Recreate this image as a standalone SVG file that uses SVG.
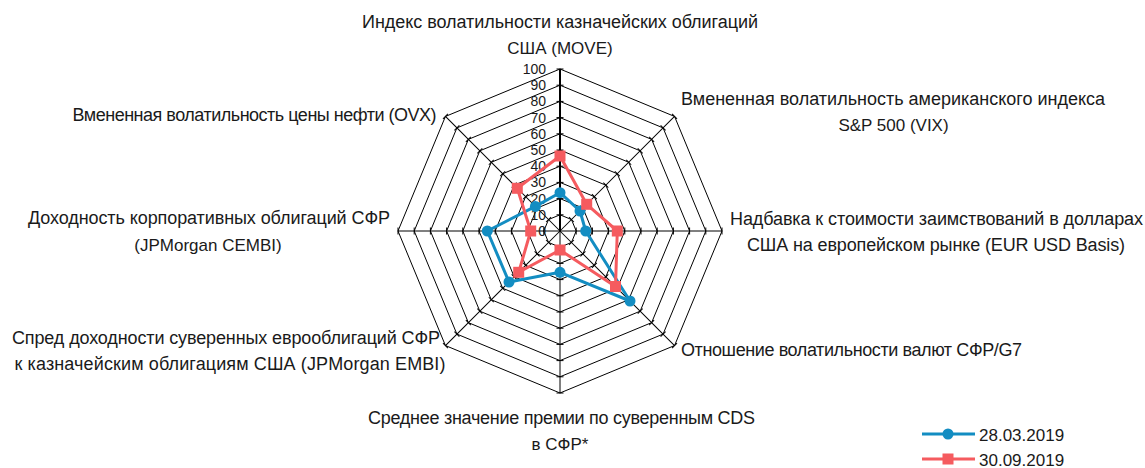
<svg xmlns="http://www.w3.org/2000/svg" xmlns:xlink="http://www.w3.org/1999/xlink" width="1145" height="468" viewBox="0 0 1145 468">
<style>
.lbl{font-family:"Liberation Sans",Arial,sans-serif;font-size:18px;fill:#1a1a1a}
.sh{font-size:17px}
.val{font-family:"Liberation Sans",Arial,sans-serif;font-size:14px;fill:#1a1a1a;text-anchor:end}
.ring{fill:none;stroke:#000;stroke-width:1}
.ax{stroke:#000;stroke-width:1}
.tk{stroke:#000;stroke-width:1}
.sb{fill:none;stroke:#138DC2;stroke-width:3;stroke-linejoin:round}
.sr{fill:none;stroke:#F55B5F;stroke-width:3;stroke-linejoin:round}
.mb{fill:#138DC2}
.mr{fill:#F55B5F}
</style>
<defs>
<g id="ticks">
<line class="tk" x1="-3.5" y1="-16.2" x2="3.5" y2="-16.2"/>
<line class="tk" x1="-3.5" y1="-32.4" x2="3.5" y2="-32.4"/>
<line class="tk" x1="-3.5" y1="-48.6" x2="3.5" y2="-48.6"/>
<line class="tk" x1="-3.5" y1="-64.8" x2="3.5" y2="-64.8"/>
<line class="tk" x1="-3.5" y1="-81" x2="3.5" y2="-81"/>
<line class="tk" x1="-3.5" y1="-97.2" x2="3.5" y2="-97.2"/>
<line class="tk" x1="-3.5" y1="-113.4" x2="3.5" y2="-113.4"/>
<line class="tk" x1="-3.5" y1="-129.6" x2="3.5" y2="-129.6"/>
<line class="tk" x1="-3.5" y1="-145.8" x2="3.5" y2="-145.8"/>
<line class="tk" x1="-3.5" y1="-162" x2="3.5" y2="-162"/>
<line class="ax" x1="0" y1="0" x2="0" y2="-162"/>
</g>
<circle id="cb" r="5.5" class="mb"/>
<rect id="qr" x="-5.5" y="-5.5" width="11" height="11" class="mr"/>
</defs>
<g id="grid" transform="translate(560,231)">
<polygon class="ring" points="0,-16.2 11.455,-11.455 16.2,0 11.455,11.455 0,16.2 -11.455,11.455 -16.2,0 -11.455,-11.455"/>
<polygon class="ring" points="0,-32.4 22.91,-22.91 32.4,0 22.91,22.91 0,32.4 -22.91,22.91 -32.4,0 -22.91,-22.91"/>
<polygon class="ring" points="0,-48.6 34.365,-34.365 48.6,0 34.365,34.365 0,48.6 -34.365,34.365 -48.6,0 -34.365,-34.365"/>
<polygon class="ring" points="0,-64.8 45.82,-45.82 64.8,0 45.82,45.82 0,64.8 -45.82,45.82 -64.8,0 -45.82,-45.82"/>
<polygon class="ring" points="0,-81 57.276,-57.276 81,0 57.276,57.276 0,81 -57.276,57.276 -81,0 -57.276,-57.276"/>
<polygon class="ring" points="0,-97.2 68.73,-68.73 97.2,0 68.73,68.73 0,97.2 -68.73,68.73 -97.2,0 -68.73,-68.73"/>
<polygon class="ring" points="0,-113.4 80.186,-80.186 113.4,0 80.186,80.186 0,113.4 -80.186,80.186 -113.4,0 -80.186,-80.186"/>
<polygon class="ring" points="0,-129.6 91.64,-91.64 129.6,0 91.64,91.64 0,129.6 -91.64,91.64 -129.6,0 -91.64,-91.64"/>
<polygon class="ring" points="0,-145.8 103.1,-103.1 145.8,0 103.1,103.1 0,145.8 -103.1,103.1 -145.8,0 -103.1,-103.1"/>
<polygon class="ring" points="0,-162 114.55,-114.55 162,0 114.55,114.55 0,162 -114.55,114.55 -162,0 -114.55,-114.55"/>
<use xlink:href="#ticks" href="#ticks" transform="rotate(45)"/>
<use xlink:href="#ticks" href="#ticks" transform="rotate(90)"/>
<use xlink:href="#ticks" href="#ticks" transform="rotate(135)"/>
<use xlink:href="#ticks" href="#ticks" transform="rotate(180)"/>
<use xlink:href="#ticks" href="#ticks" transform="rotate(225)"/>
<use xlink:href="#ticks" href="#ticks" transform="rotate(270)"/>
<use xlink:href="#ticks" href="#ticks" transform="rotate(315)"/>
<use xlink:href="#ticks" href="#ticks"/>
<line x1="0" y1="0" x2="0" y2="-162" stroke="#000" stroke-width="2"/>
</g>
<g id="value-labels">
<text class="val" x="546" y="236">0</text>
<text class="val" x="546" y="219.8">10</text>
<text class="val" x="546" y="203.6">20</text>
<text class="val" x="546" y="187.4">30</text>
<text class="val" x="546" y="171.2">40</text>
<text class="val" x="546" y="155">50</text>
<text class="val" x="546" y="138.8">60</text>
<text class="val" x="546" y="122.6">70</text>
<text class="val" x="546" y="106.4">80</text>
<text class="val" x="546" y="90.2">90</text>
<text class="val" x="546" y="74">100</text>
</g>
<g id="connectors">
<polygon class="sb" points="560,192.7 580,211 585.7,231 630,301 560,272.3 509,282 487.3,231 535.4,206.4"/>
<polygon class="sr" points="560,156 586.7,204.3 617.3,231 615.5,286.5 560,250 518.7,272.3 530.7,231 517.3,188.3"/>
</g>
<g id="series-blue">
<use href="#cb" xlink:href="#cb" x="560" y="192.7"/>
<use href="#cb" xlink:href="#cb" x="580" y="211"/>
<use href="#cb" xlink:href="#cb" x="585.7" y="231"/>
<use href="#cb" xlink:href="#cb" x="630" y="301"/>
<use href="#cb" xlink:href="#cb" x="560" y="272.3"/>
<use href="#cb" xlink:href="#cb" x="509" y="282"/>
<use href="#cb" xlink:href="#cb" x="487.3" y="231"/>
<use href="#cb" xlink:href="#cb" x="535.4" y="206.4"/>
</g>
<g id="series-red">
<use href="#qr" xlink:href="#qr" x="560" y="156"/>
<use href="#qr" xlink:href="#qr" x="586.7" y="204.3"/>
<use href="#qr" xlink:href="#qr" x="617.3" y="231"/>
<use href="#qr" xlink:href="#qr" x="615.5" y="286.5"/>
<use href="#qr" xlink:href="#qr" x="560" y="250"/>
<use href="#qr" xlink:href="#qr" x="518.7" y="272.3"/>
<use href="#qr" xlink:href="#qr" x="530.7" y="231"/>
<use href="#qr" xlink:href="#qr" x="517.3" y="188.3"/>
</g>
<g id="label-move">
<text class="lbl" x="560" y="28" text-anchor="middle" textLength="396">Индекс волатильности казначейских облигаций</text>
<text class="lbl sh" x="560" y="54" text-anchor="middle">США (MOVE)</text>
</g>
<g id="label-vix">
<text class="lbl" x="893" y="105" text-anchor="middle" textLength="424">Вмененная волатильность американского индекса</text>
<text class="lbl sh" x="893.5" y="131" text-anchor="middle">S&amp;P 500 (VIX)</text>
</g>
<g id="label-eur">
<text class="lbl" x="936.5" y="225" text-anchor="middle" textLength="413">Надбавка к стоимости заимствований в долларах</text>
<text class="lbl" x="936" y="251" text-anchor="middle" textLength="378">США на европейском рынке (EUR USD Basis)</text>
</g>
<g id="label-fx">
<text class="lbl" x="681" y="356" textLength="341">Отношение волатильности валют СФР/G7</text>
</g>
<g id="label-cds">
<text class="lbl" x="561.5" y="424" text-anchor="middle" textLength="387">Среднее значение премии по суверенным CDS</text>
<text class="lbl sh" x="560" y="450" text-anchor="middle">в СФР*</text>
</g>
<g id="label-embi">
<text class="lbl" x="226" y="344" text-anchor="middle" textLength="428">Спред доходности суверенных еврооблигаций СФР</text>
<text class="lbl" x="230" y="370" text-anchor="middle" textLength="431">к казначейским облигациям США (JPMorgan EMBI)</text>
</g>
<g id="label-cembi">
<text class="lbl" x="209" y="224" text-anchor="middle" textLength="362">Доходность корпоративных облигаций СФР</text>
<text class="lbl sh" x="208" y="251" text-anchor="middle">(JPMorgan CEMBI)</text>
</g>
<g id="label-ovx">
<text class="lbl" x="254.5" y="121" text-anchor="middle" textLength="364">Вмененная волатильность цены нефти (OVX)</text>
</g>
<g id="legend">
<line x1="922" y1="434" x2="975" y2="434" stroke="#138DC2" stroke-width="3"/>
<use href="#cb" xlink:href="#cb" x="948" y="434"/>
<text class="lbl sh" x="979" y="441">28.03.2019</text>
<line x1="922" y1="459" x2="975" y2="459" stroke="#F55B5F" stroke-width="3"/>
<use href="#qr" xlink:href="#qr" x="948" y="459"/>
<text class="lbl sh" x="979" y="466">30.09.2019</text>
</g>
</svg>
